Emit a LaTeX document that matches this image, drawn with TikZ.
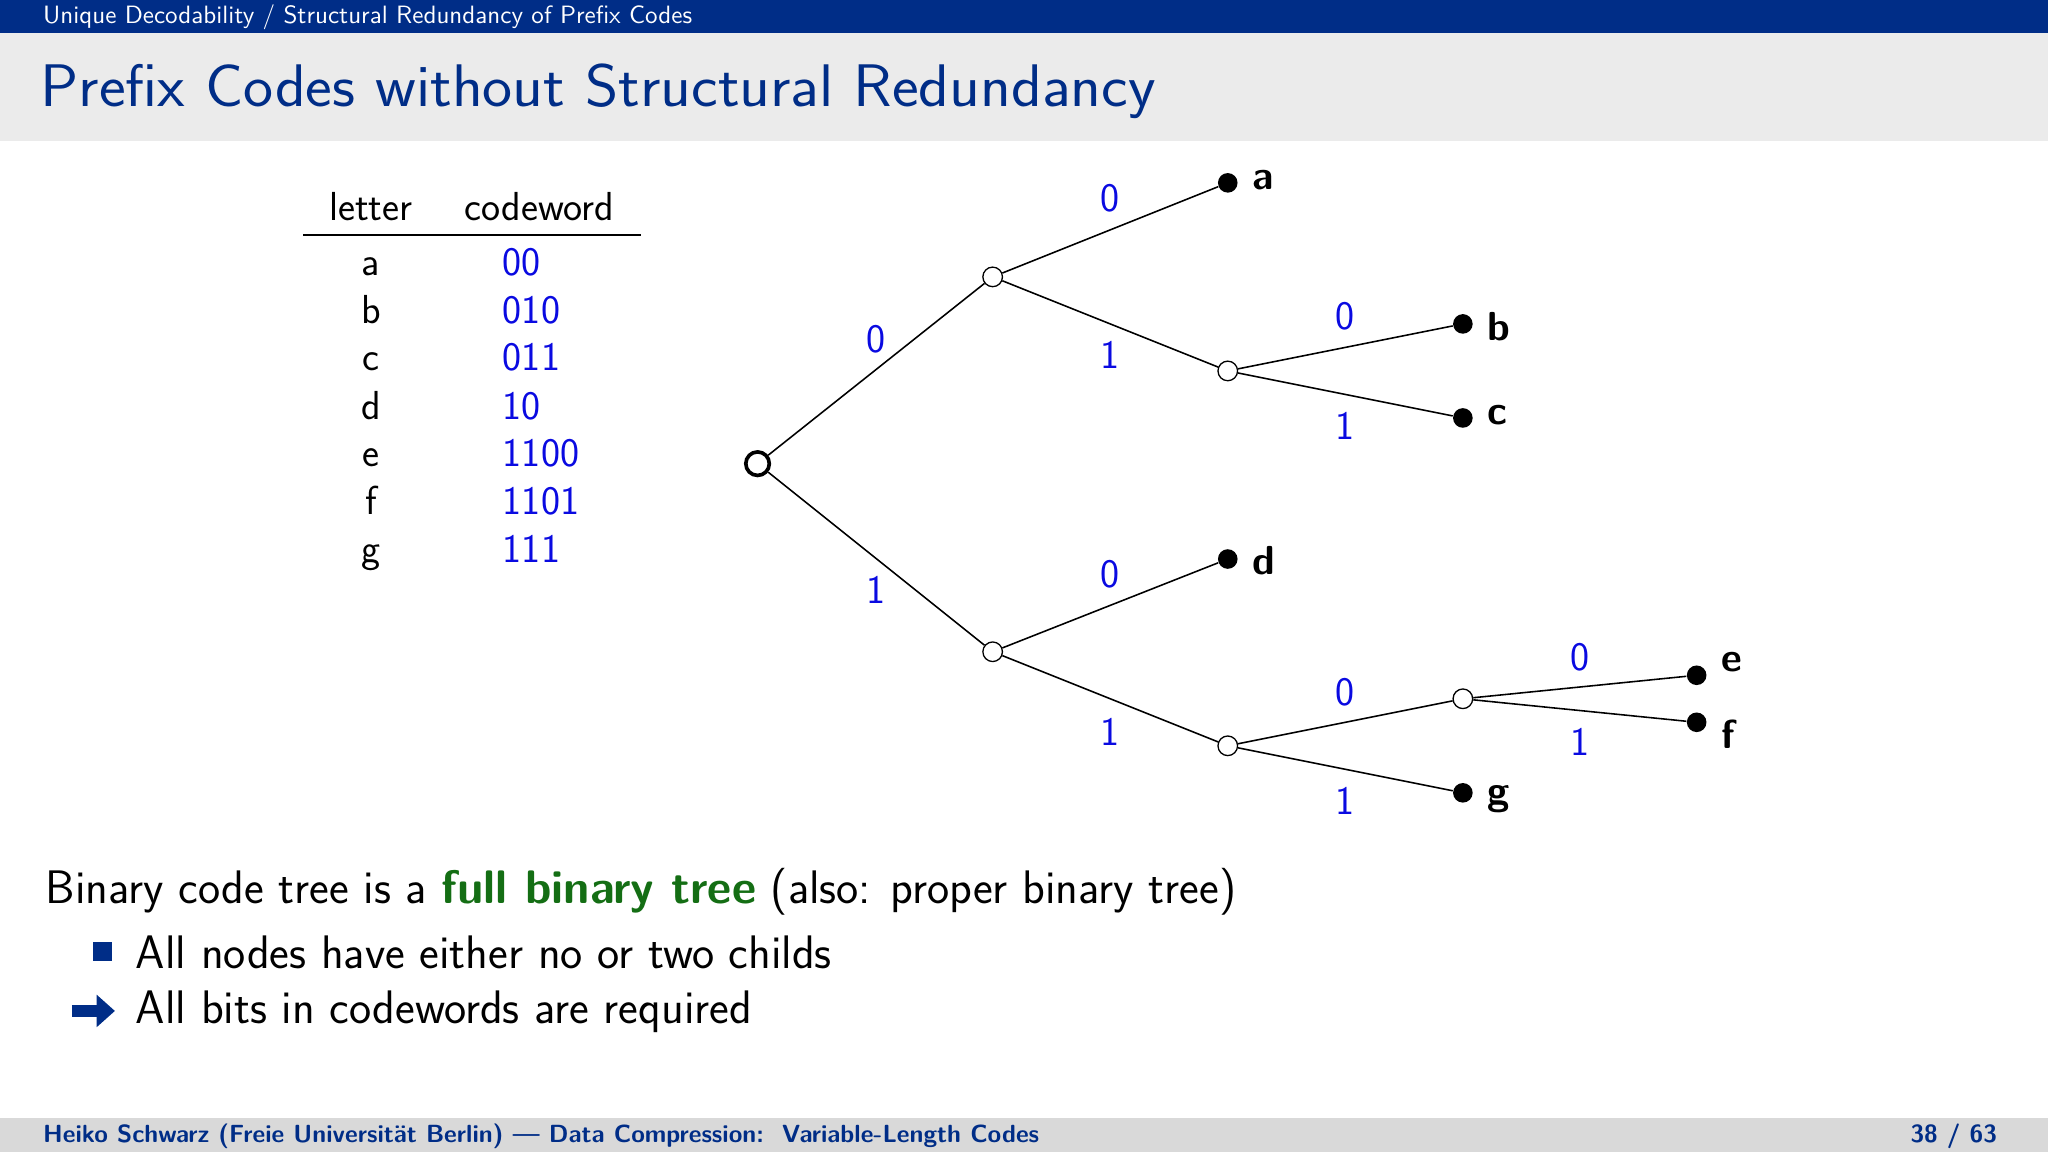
\documentclass[tikz,border=0pt]{standalone}
\usepackage{fontspec}
\renewcommand{\familydefault}{\sfdefault}
\usetikzlibrary{arrows.meta}
\definecolor{navy}{RGB}{0,45,135}
\definecolor{cw}{RGB}{10,10,225}
\definecolor{fgreen}{RGB}{20,110,20}
\begin{document}
\sffamily
\begin{tikzpicture}[x=0.5pt,y=-0.5pt,
  inner/.style={circle,draw,fill=white,inner sep=0,minimum size=7.5pt,line width=0.5pt},
  leaf/.style={circle,fill=black,inner sep=0,minimum size=7.5pt},
  edge/.style={line width=0.6pt},
  bl/.style={text=cw,font=\fontsize{15.5}{17}\selectfont},
  ll/.style={font=\bfseries\fontsize{15.5}{17}\selectfont,anchor=west},
  tb/.style={font=\fontsize{15.5}{17}\selectfont},
  body/.style={anchor=west,font=\fontsize{18}{21}\selectfont}]
\useasboundingbox (0,0) rectangle (1568,882);
\fill[navy] (0,0) rectangle (1568,25);
\fill[black!8] (0,25) rectangle (1568,108);
\fill[black!15] (0,856) rectangle (1568,882);
\node[anchor=west,text=white,font=\fontsize{9.6}{11}\selectfont] (hd) at (26,13) {Unique Decodability / Structural Redundancy of Prefix Codes};
\node[anchor=west,text=navy,font=\fontsize{23}{27}\selectfont] (ti) at (24,70) {\scalebox{1.06}[1]{Prefix Codes without Structural Redundancy}};
\node[anchor=west,text=navy,font=\bfseries\fontsize{9.5}{11}\selectfont] (ft) at (26,870) {Heiko Schwarz (Freie Universit\"at Berlin) --- Data Compression:\ \ Variable-Length Codes};
\node[anchor=east,text=navy,font=\bfseries\fontsize{9.5}{11}\selectfont] (pg) at (1536,870) {38 / 63};
% table
\node[tb] (th1) at (284,158) {letter};
\node[tb] (th2) at (413,158) {codeword};
\draw[line width=0.5pt] (232,180) -- (491,180);
\foreach \l/\c/\y in {a/00/204,b/010/241,c/011/277,d/10/314,e/1100/350,f/1101/387,g/111/424}{
  \node[tb] (l\l) at (284,\y) {\strut\l};
  \node[tb,text=cw,anchor=west] (c\l) at (378,\y) {\strut\c};
}
% tree
\node[circle,draw,fill=white,inner sep=0,minimum size=9pt,line width=1.4pt] (r) at (580,355) {};
\node[inner] (n0) at (760,212) {};
\node[inner] (n1) at (760,499) {};
\node[inner] (n01) at (940,284) {};
\node[inner] (n11) at (940,571) {};
\node[inner] (n110) at (1120,535) {};
\node[leaf] (a) at (940,140) {};
\node[leaf] (b) at (1120,248) {};
\node[leaf] (c) at (1120,320) {};
\node[leaf] (d) at (940,428) {};
\node[leaf] (g) at (1120,607) {};
\node[leaf] (e) at (1299,517) {};
\node[leaf] (f) at (1299,553) {};
\foreach \u/\v in {r/n0,r/n1,n0/a,n0/n01,n01/b,n01/c,n1/d,n1/n11,n11/n110,n11/g,n110/e,n110/f}
  \draw[edge] (\u) -- (\v);
\foreach \t/\x/\y [count=\i] in {0/671/260,1/671/452,0/850/152,1/850/272,0/1030/242,1/1030/326,0/850/440,1/850/560,0/1030/530,1/1030/613,0/1210/503,1/1210/568}
  \node[bl] (el\i) at (\x,\y) {\t};
\node[ll] (la) at (952,138) {a};
\node[ll] (lb) at (1132,250) {b};
\node[ll] (lc) at (1132,318) {c};
\node[ll] (ld) at (952,429) {d};
\node[ll] (le) at (1311,507) {e};
\node[ll] (lf) at (1311,562) {f};
\node[ll] (lg) at (1132,612) {g};
% bottom text
\node[body] (t1) at (28,683) {Binary code tree is a \textcolor{fgreen}{\bfseries full binary tree} (also: proper binary tree)};
\fill[navy] (71,721) rectangle (86,736);
\node[body] (t2) at (97,729) {All nodes have either no or two childs};
\draw[navy,line width=4.5pt,-{Triangle[length=7pt,width=12pt]}] (55,774) -- (88,774);
\node[body] (t3) at (97,775) {All bits in codewords are required};
\end{tikzpicture}
\end{document}
